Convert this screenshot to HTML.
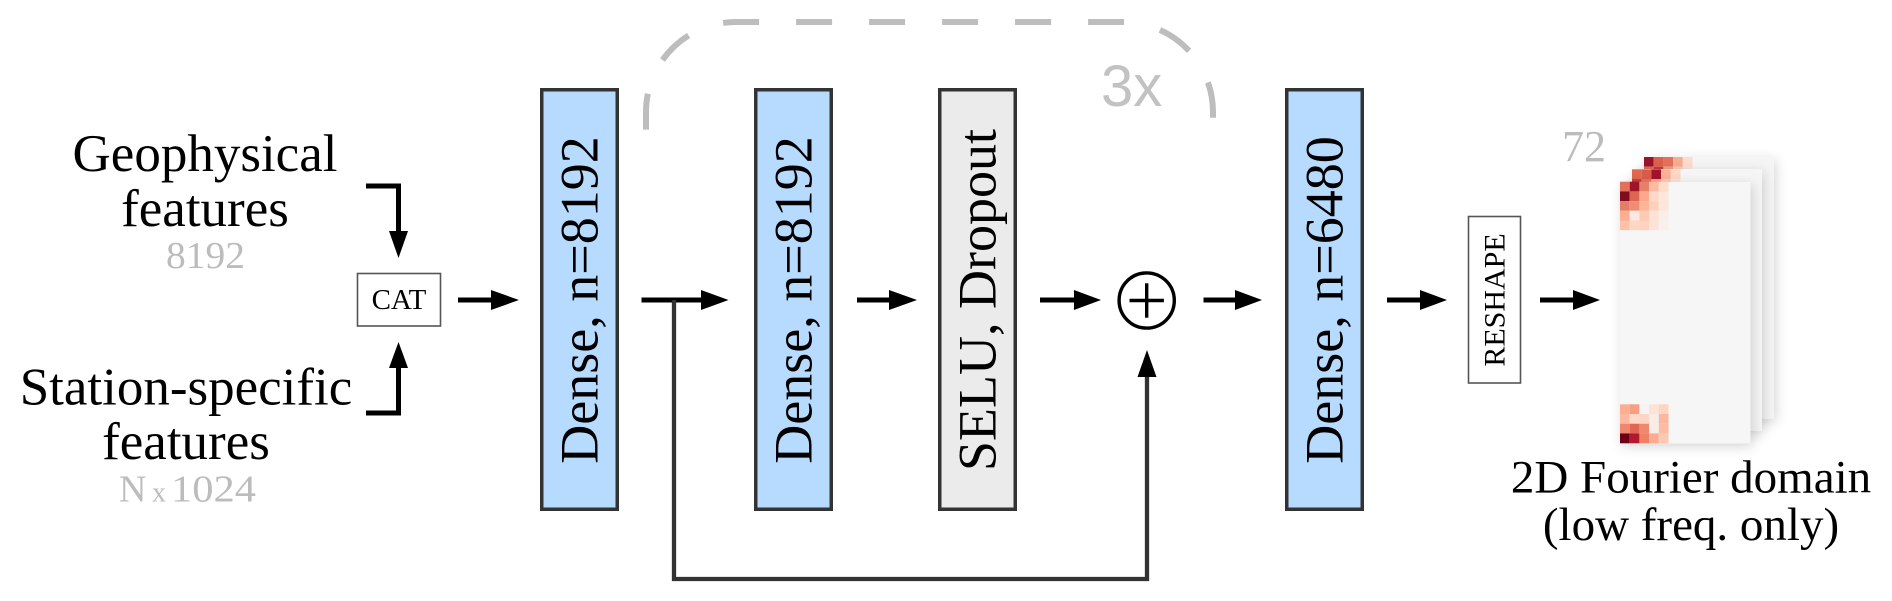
<!DOCTYPE html>
<html>
<head>
<meta charset="utf-8">
<style>
  html, body { margin: 0; padding: 0; background: #ffffff; }
  svg { display: block; }
  text { font-family: "Liberation Serif", serif; }
</style>
</head>
<body>
<svg width="1892" height="601" viewBox="0 0 1892 601" xmlns="http://www.w3.org/2000/svg">
  <defs>
    <filter id="sh" x="-20%" y="-20%" width="140%" height="140%">
      <feDropShadow dx="2" dy="3" stdDeviation="6" flood-color="#000" flood-opacity="0.16"/>
    </filter>
  </defs>
  <rect x="0" y="0" width="1892" height="601" fill="#ffffff"/>

  <!-- Left labels -->
  <text x="205" y="171" font-size="53" text-anchor="middle" fill="#000">Geophysical</text>
  <text x="205" y="226" font-size="53" text-anchor="middle" fill="#000">features</text>
  <text x="205.5" y="268" font-size="38" text-anchor="middle" fill="#bcbcbc" textLength="79" lengthAdjust="spacingAndGlyphs">8192</text>

  <text x="186" y="404.5" font-size="53" text-anchor="middle" fill="#000">Station-specific</text>
  <text x="186" y="459" font-size="53" text-anchor="middle" fill="#000">features</text>
  <text x="119" y="501.5" font-size="38" fill="#bcbcbc">N</text>
  <text x="152" y="501.5" font-size="28" fill="#bcbcbc">x</text>
  <text x="171" y="501.5" font-size="38" fill="#bcbcbc" textLength="85" lengthAdjust="spacingAndGlyphs">1024</text>

  <!-- Input connectors -->
  <path d="M366,186 H398.5 V233" fill="none" stroke="#000" stroke-width="5"/>
  <polygon points="389,231 408,231 398.5,258" fill="#000"/>
  <path d="M366,413 H398.5 V366" fill="none" stroke="#000" stroke-width="5"/>
  <polygon points="389,368 408,368 398.5,342" fill="#000"/>

  <!-- CAT box -->
  <rect x="357.5" y="273.5" width="83" height="52.5" fill="#fff" stroke="#555" stroke-width="1.6"/>
  <text x="399" y="309" font-size="29" text-anchor="middle" fill="#000">CAT</text>

  <!-- Arrow CAT -> Dense1 -->
  <line x1="458" y1="300" x2="493" y2="300" stroke="#000" stroke-width="5"/>
  <polygon points="491,290 491,310 519,300" fill="#000"/>

  <!-- Dashed repeat arc -->
  <path d="M646,131 V112 A90,90 0 0 1 736,22 H1123 A90,90 0 0 1 1213,112 V126" fill="none" stroke="#bdbdbd" stroke-width="6" stroke-dasharray="36 37" stroke-dashoffset="-1.4"/>
  <text x="1101" y="106" font-size="58" fill="#c2c2c2" style="font-family:'Liberation Sans',sans-serif">3x</text>

  <!-- Dense 1 -->
  <rect x="541.75" y="89.75" width="75.5" height="419.5" fill="#b7dbff" stroke="#333" stroke-width="3.5"/>
  <text transform="translate(597.5,300) rotate(-90)" x="0" y="0" font-size="54" text-anchor="middle" fill="#000">Dense, n=8192</text>

  <!-- Arrow Dense1 -> Dense2 -->
  <line x1="641.5" y1="300" x2="703" y2="300" stroke="#000" stroke-width="5"/>
  <polygon points="701,290 701,310 728.5,300" fill="#000"/>

  <!-- Skip connection -->
  <path d="M674,300 V579 H1147 V374" fill="none" stroke="#333" stroke-width="4.3"/>
  <polygon points="1137.5,377 1156.5,377 1147,350" fill="#000"/>

  <!-- Dense 2 -->
  <rect x="755.75" y="89.75" width="75.5" height="419.5" fill="#b7dbff" stroke="#333" stroke-width="3.5"/>
  <text transform="translate(811.5,300) rotate(-90)" x="0" y="0" font-size="54" text-anchor="middle" fill="#000">Dense, n=8192</text>

  <!-- Arrow Dense2 -> SELU -->
  <line x1="857" y1="300" x2="891" y2="300" stroke="#000" stroke-width="5"/>
  <polygon points="889,290 889,310 917,300" fill="#000"/>

  <!-- SELU box -->
  <rect x="939.75" y="89.75" width="75.5" height="419.5" fill="#ebebeb" stroke="#333" stroke-width="3.5"/>
  <text transform="translate(995.5,300) rotate(-90)" x="0" y="0" font-size="54" text-anchor="middle" fill="#000">SELU, Dropout</text>

  <!-- Arrow SELU -> plus -->
  <line x1="1040" y1="300" x2="1076" y2="300" stroke="#000" stroke-width="5"/>
  <polygon points="1074,290 1074,310 1101,300" fill="#000"/>

  <!-- Plus circle -->
  <circle cx="1146.7" cy="300.5" r="27.6" fill="#fff" stroke="#000" stroke-width="3.4"/>
  <line x1="1129.5" y1="300.5" x2="1163.9" y2="300.5" stroke="#000" stroke-width="3.4"/>
  <line x1="1146.7" y1="283.3" x2="1146.7" y2="317.7" stroke="#000" stroke-width="3.4"/>

  <!-- Arrow plus -> Dense3 -->
  <line x1="1203.5" y1="300" x2="1237" y2="300" stroke="#000" stroke-width="5"/>
  <polygon points="1235,290 1235,310 1262,300" fill="#000"/>

  <!-- Dense 3 -->
  <rect x="1286.75" y="89.75" width="75.5" height="419.5" fill="#b7dbff" stroke="#333" stroke-width="3.5"/>
  <text transform="translate(1342.5,300) rotate(-90)" x="0" y="0" font-size="54" text-anchor="middle" fill="#000">Dense, n=6480</text>

  <!-- Arrow Dense3 -> RESHAPE -->
  <line x1="1387" y1="300" x2="1422" y2="300" stroke="#000" stroke-width="5"/>
  <polygon points="1420,290 1420,310 1447,300" fill="#000"/>

  <!-- RESHAPE box -->
  <rect x="1468.5" y="216.5" width="52" height="166.5" fill="#fff" stroke="#555" stroke-width="1.6"/>
  <text transform="translate(1504.5,300) rotate(-90)" x="0" y="0" font-size="30" text-anchor="middle" fill="#000">RESHAPE</text>

  <!-- Arrow RESHAPE -> image -->
  <line x1="1540" y1="300" x2="1575" y2="300" stroke="#000" stroke-width="5"/>
  <polygon points="1573,290 1573,310 1600,300" fill="#000"/>

  <!-- 72 label -->
  <text x="1584" y="161" font-size="44" text-anchor="middle" fill="#bcbcbc">72</text>

  <!-- Card 3 (back) -->
  <rect x="1644" y="157" width="130" height="262" fill="#f5f5f5" filter="url(#sh)"/>
  <g>
    <rect x="1644.0" y="157" width="9.7" height="9.7" fill="#9b1129"/>
    <rect x="1653.7" y="157" width="9.7" height="9.7" fill="#db614c"/>
    <rect x="1663.4" y="157" width="9.7" height="9.7" fill="#e4715b"/>
    <rect x="1673.1" y="157" width="9.7" height="9.7" fill="#f6ad91"/>
    <rect x="1682.8" y="157" width="9.7" height="9.7" fill="#fbdccd"/>
    <rect x="1644.0" y="166.7" width="9.7" height="9.7" fill="#e06c56"/>
    <rect x="1653.7" y="166.7" width="9.7" height="9.7" fill="#c23a38"/>
    <rect x="1663.4" y="166.7" width="9.7" height="9.7" fill="#f4a083"/>
    <rect x="1673.1" y="166.7" width="9.7" height="9.7" fill="#fcc9b2"/>
    <rect x="1682.8" y="166.7" width="9.7" height="9.7" fill="#fde2d6"/>
  </g>

  <!-- Card 2 (middle) -->
  <rect x="1632" y="169" width="130" height="262" fill="#f5f5f5" filter="url(#sh)"/>
  <g>
    <rect x="1632.0" y="169.3" width="9.7" height="9.7" fill="#e06750"/>
    <rect x="1641.7" y="169.3" width="9.7" height="9.7" fill="#d95c4a"/>
    <rect x="1651.4" y="169.3" width="9.7" height="9.7" fill="#a1122b"/>
    <rect x="1661.1" y="169.3" width="9.7" height="9.7" fill="#fab297"/>
    <rect x="1670.8" y="169.3" width="9.7" height="9.7" fill="#fcd7c5"/>
    <rect x="1632.0" y="179.0" width="9.7" height="9.7" fill="#c8403a"/>
    <rect x="1641.7" y="179.0" width="9.7" height="9.7" fill="#e47560"/>
    <rect x="1651.4" y="179.0" width="9.7" height="9.7" fill="#f7a486"/>
    <rect x="1661.1" y="179.0" width="9.7" height="9.7" fill="#fcc9b2"/>
    <rect x="1670.8" y="179.0" width="9.7" height="9.7" fill="#fde2d6"/>
  </g>

  <!-- Card 1 (front) -->
  <rect x="1620" y="182" width="130.5" height="261.5" fill="#f6f6f6" filter="url(#sh)"/>
  <g>
    <!-- top grid -->
    <rect x="1620.0" y="181.7" width="9.7" height="9.7" fill="#e2705a"/>
    <rect x="1629.7" y="181.7" width="9.7" height="9.7" fill="#a0142a"/>
    <rect x="1639.4" y="181.7" width="9.7" height="9.7" fill="#e7806a"/>
    <rect x="1649.1" y="181.7" width="9.7" height="9.7" fill="#fcbba1"/>
    <rect x="1658.8" y="181.7" width="9.7" height="9.7" fill="#fddccc"/>

    <rect x="1620.0" y="191.4" width="9.7" height="9.7" fill="#7f0c20"/>
    <rect x="1629.7" y="191.4" width="9.7" height="9.7" fill="#dc6651"/>
    <rect x="1639.4" y="191.4" width="9.7" height="9.7" fill="#fba88c"/>
    <rect x="1649.1" y="191.4" width="9.7" height="9.7" fill="#fdd8c6"/>
    <rect x="1658.8" y="191.4" width="9.7" height="9.7" fill="#fde6db"/>

    <rect x="1620.0" y="201.1" width="9.7" height="9.7" fill="#e47d67"/>
    <rect x="1629.7" y="201.1" width="9.7" height="9.7" fill="#ef8d74"/>
    <rect x="1639.4" y="201.1" width="9.7" height="9.7" fill="#fcb598"/>
    <rect x="1649.1" y="201.1" width="9.7" height="9.7" fill="#fdd0bb"/>
    <rect x="1658.8" y="201.1" width="9.7" height="9.7" fill="#fde5d9"/>

    <rect x="1620.0" y="210.8" width="9.7" height="9.7" fill="#fcae92"/>
    <rect x="1629.7" y="210.8" width="9.7" height="9.7" fill="#fae8e1"/>
    <rect x="1639.4" y="210.8" width="9.7" height="9.7" fill="#fdcab3"/>
    <rect x="1649.1" y="210.8" width="9.7" height="9.7" fill="#fde2d5"/>
    <rect x="1658.8" y="210.8" width="9.7" height="9.7" fill="#f9eee9"/>

    <rect x="1620.0" y="220.5" width="9.7" height="9.7" fill="#fcc2a9"/>
    <rect x="1629.7" y="220.5" width="9.7" height="9.7" fill="#fdd6c4"/>
    <rect x="1639.4" y="220.5" width="9.7" height="9.7" fill="#fdd2be"/>
    <rect x="1649.1" y="220.5" width="9.7" height="9.7" fill="#fde3d7"/>
    <rect x="1658.8" y="220.5" width="9.7" height="9.7" fill="#f8f0ec"/>

    <!-- bottom grid -->
    <rect x="1620.0" y="404.3" width="9.7" height="9.7" fill="#fcae91"/>
    <rect x="1629.7" y="404.3" width="9.7" height="9.7" fill="#f99e83"/>
    <rect x="1639.4" y="404.3" width="9.7" height="9.7" fill="#f6f3f2"/>
    <rect x="1649.1" y="404.3" width="9.7" height="9.7" fill="#fde2d6"/>
    <rect x="1658.8" y="404.3" width="9.7" height="9.7" fill="#fdd5c3"/>

    <rect x="1620.0" y="414.0" width="9.7" height="9.7" fill="#fcb89e"/>
    <rect x="1629.7" y="414.0" width="9.7" height="9.7" fill="#fdd9c8"/>
    <rect x="1639.4" y="414.0" width="9.7" height="9.7" fill="#fdd5c4"/>
    <rect x="1649.1" y="414.0" width="9.7" height="9.7" fill="#f9ebe6"/>
    <rect x="1658.8" y="414.0" width="9.7" height="9.7" fill="#fcb89f"/>

    <rect x="1620.0" y="423.7" width="9.7" height="9.7" fill="#ee876e"/>
    <rect x="1629.7" y="423.7" width="9.7" height="9.7" fill="#e06753"/>
    <rect x="1639.4" y="423.7" width="9.7" height="9.7" fill="#ef8870"/>
    <rect x="1649.1" y="423.7" width="9.7" height="9.7" fill="#f8ece8"/>
    <rect x="1658.8" y="423.7" width="9.7" height="9.7" fill="#fcbca4"/>

    <rect x="1620.0" y="433.4" width="9.7" height="9.9" fill="#6d0019"/>
    <rect x="1629.7" y="433.4" width="9.7" height="9.9" fill="#b01a2e"/>
    <rect x="1639.4" y="433.4" width="9.7" height="9.9" fill="#ee8066"/>
    <rect x="1649.1" y="433.4" width="9.7" height="9.9" fill="#fcab8e"/>
    <rect x="1658.8" y="433.4" width="9.7" height="9.9" fill="#fdc9b2"/>
  </g>

  <!-- Output caption -->
  <text x="1691" y="492.5" font-size="47" text-anchor="middle" fill="#000">2D Fourier domain</text>
  <text x="1691" y="540" font-size="47" text-anchor="middle" fill="#000">(low freq. only)</text>
</svg>
</body>
</html>
